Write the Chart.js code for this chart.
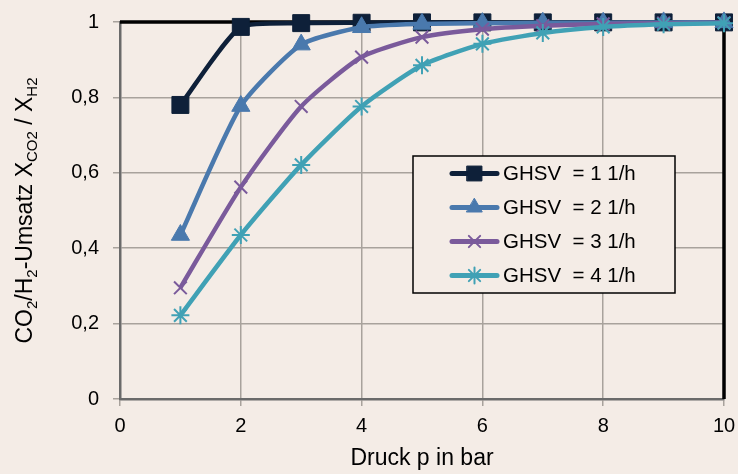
<!DOCTYPE html>
<html>
<head>
<meta charset="utf-8">
<script src="https://cdn.jsdelivr.net/npm/chart.js@4.4.1/dist/chart.umd.min.js"></script>
<style>
  html, body { margin: 0; padding: 0; background: #f4ece6; }
  #wrap { width: 738px; height: 474px; }
</style>
</head>
<body>
<div id="wrap"><canvas id="c" width="738" height="474"></canvas></div>
<script>
const pressure = [1, 2, 3, 4, 5, 6, 7, 8, 9, 10];
const ghsv1 = [0.78, 0.987, 0.997, 0.998, 0.999, 0.999, 0.999, 0.999, 0.999, 0.999];
const ghsv2 = [0.435, 0.777, 0.94, 0.986, 0.995, 0.997, 0.998, 0.998, 0.999, 0.999];
const ghsv3 = [0.295, 0.562, 0.776, 0.907, 0.96, 0.981, 0.99, 0.995, 0.997, 0.998];
const ghsv4 = [0.222, 0.435, 0.621, 0.776, 0.885, 0.942, 0.971, 0.987, 0.994, 0.997];
const seriesLabels = ['GHSV  = 1 1/h', 'GHSV  = 2 1/h', 'GHSV  = 3 1/h', 'GHSV  = 4 1/h'];
const xTicks = [0, 2, 4, 6, 8, 10];
const yTicks = [0, 0.2, 0.4, 0.6, 0.8, 1];

const FONT = '"Liberation Sans", Arial, sans-serif';
const BG = '#f4ece6';

const styles = [
  { color: '#0e2039', pointStyle: 'rect', r: 12, lr: 10.5, pbw: 1 },
  { color: '#4a79ad', pointStyle: 'triangle', r: 10.5, lr: 9, pbw: 1 },
  { color: '#7a5a9b', pointStyle: 'crossRot', r: 9, lr: 8, pbw: 2 },
  { color: '#40a1b5', pointStyle: 'star', r: 9, lr: 8, pbw: 2 },
];
const values = [ghsv1, ghsv2, ghsv3, ghsv4];

const datasets = values.map((vals, i) => ({
  label: seriesLabels[i],
  data: pressure.map((p, k) => ({ x: p, y: vals[k] })),
  borderColor: styles[i].color,
  backgroundColor: styles[i].color,
  borderWidth: 4.5,
  pointStyle: styles[i].pointStyle,
  pointRadius: styles[i].r,
  pointBorderWidth: styles[i].pbw,
  pointBackgroundColor: styles[i].color,
  pointBorderColor: styles[i].color,
  tension: 0.2,
  order: 4 - i,
  clip: false,
}));

// black frame on top and right, like the original
const framePlugin = {
  id: 'frame',
  beforeDatasetsDraw(chart) {
    const { ctx, chartArea: a } = chart;
    ctx.save();
    ctx.strokeStyle = '#000';
    ctx.lineWidth = 3.5;
    ctx.beginPath();
    ctx.moveTo(a.left, a.top);
    ctx.lineTo(a.right, a.top);
    ctx.lineTo(a.right, a.bottom);
    ctx.stroke();
    ctx.restore();
  }
};

// y title with subscripts
const yTitlePlugin = {
  id: 'ytitle',
  afterDraw(chart) {
    const { ctx, chartArea: a } = chart;
    const parts = [
      ['CO', 0], ['2', 1], ['/H', 0], ['2', 1], ['-Umsatz X', 0], ['CO2', 1], [' / X', 0], ['H2', 1]
    ];
    const mainF = '23px ' + FONT, subF = '15px ' + FONT;
    ctx.save();
    let total = 0;
    parts.forEach(([t, s]) => { ctx.font = s ? subF : mainF; total += ctx.measureText(t).width; });
    ctx.translate(32, (a.top + a.bottom) / 2);
    ctx.rotate(-Math.PI / 2);
    ctx.fillStyle = '#000';
    ctx.textBaseline = 'alphabetic';
    ctx.textAlign = 'left';
    let x = -total / 2;
    parts.forEach(([t, s]) => {
      ctx.font = s ? subF : mainF;
      ctx.fillText(t, x, s ? 5 : 0);
      x += ctx.measureText(t).width;
    });
    ctx.restore();
  }
};

// legend box inside the plot
const legendPlugin = {
  id: 'boxLegend',
  afterDraw(chart) {
    const { ctx } = chart;
    const bx = 413, by = 156, bw = 262, bh = 137;
    ctx.save();
    ctx.fillStyle = BG;
    ctx.fillRect(bx, by, bw, bh);
    ctx.strokeStyle = '#000';
    ctx.lineWidth = 1.5;
    ctx.strokeRect(bx, by, bw, bh);
    chart.data.datasets.forEach((ds, i) => {
      const y = 173.5 + i * 34;
      const st = styles[i];
      ctx.strokeStyle = st.color;
      ctx.lineWidth = 5;
      ctx.lineCap = 'round';
      ctx.beginPath();
      ctx.moveTo(452, y);
      ctx.lineTo(497, y);
      ctx.stroke();
      ctx.fillStyle = st.color;
      ctx.lineWidth = st.pbw;
      Chart.helpers.drawPoint(ctx, { pointStyle: st.pointStyle, radius: st.lr, borderWidth: st.pbw, rotation: 0 }, 474.5, y);
      ctx.fillStyle = '#000';
      ctx.font = '20.5px ' + FONT;
      ctx.textBaseline = 'middle';
      ctx.textAlign = 'left';
      ctx.fillText(ds.label, 503, y + 1);
    });
    ctx.restore();
  }
};

const fmt = v => String(Math.round(v * 10) / 10).replace('.', ',');

new Chart(document.getElementById('c'), {
  type: 'line',
  data: { datasets },
  options: {
    responsive: false,
    animation: false,
    events: [],
    layout: { padding: { top: 22, right: 14, left: 0, bottom: 0 } },
    plugins: { legend: { display: false }, tooltip: { enabled: false } },
    scales: {
      x: {
        type: 'linear',
        min: 0, max: 10,
        afterFit(s) { s.height = 75; s.paddingLeft = 0; s.paddingRight = 0; },
        afterBuildTicks(s) { s.ticks = xTicks.map(v => ({ value: v })); },
        ticks: { font: { family: FONT, size: 20 }, color: '#000', padding: 8, maxRotation: 0,
                 callback: v => fmt(v) },
        grid: { color: '#a8a29c', lineWidth: 1.5, tickLength: 7, tickColor: '#a8a29c' },
        border: { color: '#6a6a6a', width: 2.5 },
        title: { display: true, text: 'Druck p in bar', font: { family: FONT, size: 23 }, color: '#000',
                 padding: { top: 0, bottom: 2 } },
      },
      y: {
        type: 'linear',
        min: 0, max: 1,
        afterFit(s) { s.width = 120; s.paddingTop = 0; s.paddingBottom = 0; },
        afterBuildTicks(s) { s.ticks = yTicks.map(v => ({ value: v })); },
        ticks: { font: { family: FONT, size: 20 }, color: '#000', padding: 14,
                 callback: v => fmt(v) },
        grid: { color: '#a8a29c', lineWidth: 1.5, tickLength: 7, tickColor: '#a8a29c' },
        border: { color: '#6a6a6a', width: 2.5 },
      },
    },
  },
  plugins: [framePlugin, yTitlePlugin, legendPlugin],
});
</script>
</body>
</html>
